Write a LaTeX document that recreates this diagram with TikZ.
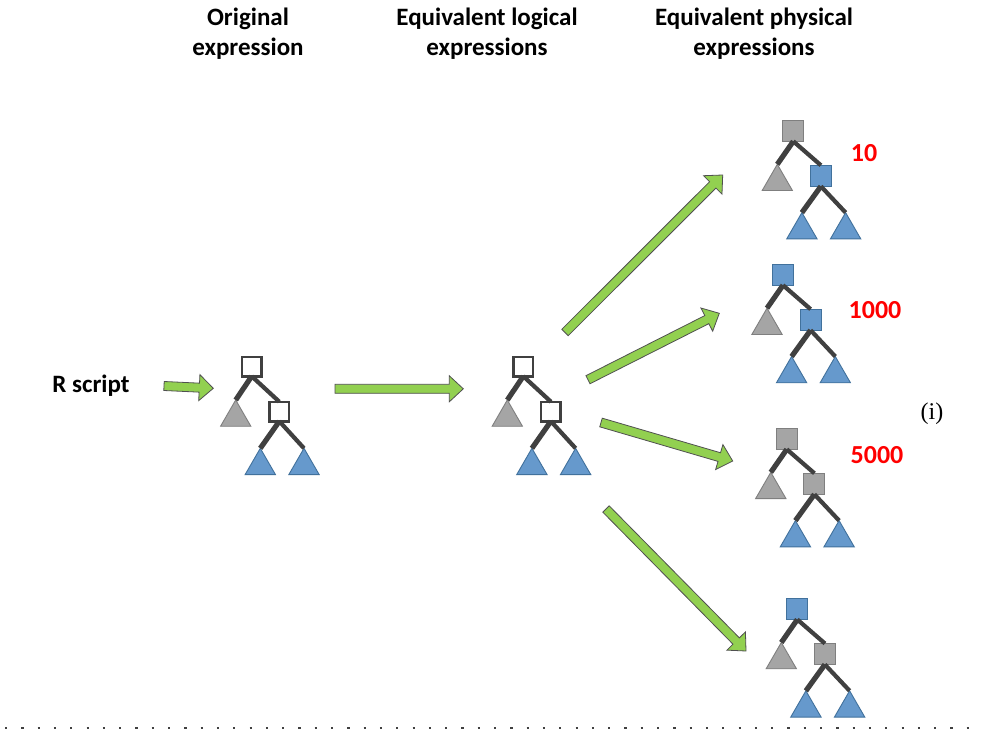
\documentclass[tikz,border=0pt]{standalone}
\usepackage{fontspec}
\setmainfont{Carlito}
\newfontfamily\serifface{Liberation Serif}
\usetikzlibrary{calc,shapes.geometric}
\definecolor{arrowgreen}{HTML}{92D050}
\definecolor{arrowline}{HTML}{505050}
\definecolor{edgegray}{HTML}{404040}
\definecolor{nodegray}{HTML}{A5A5A5}
\definecolor{nodegrayline}{HTML}{7F7F7F}
\definecolor{nodeblue}{HTML}{6699CC}
\definecolor{nodeblueline}{HTML}{41719C}
\definecolor{costred}{HTML}{FF0000}
\tikzset{
  sqbase/.style={rectangle, inner sep=0pt, outer sep=0pt},
  sqwhite/.style={sqbase, minimum size=19.5pt, fill=white, draw=edgegray, line width=2.5pt},
  sqgray/.style={sqbase, minimum size=21pt, fill=nodegray, draw=nodegrayline, line width=0.9pt},
  sqblue/.style={sqbase, minimum size=21pt, fill=nodeblue, draw=nodeblueline, line width=0.9pt},
  tri/.style={regular polygon, regular polygon sides=3, minimum size=35pt, inner sep=0pt, outer sep=0pt, line width=0.9pt},
  trigray/.style={tri, fill=nodegray, draw=nodegrayline},
  triblue/.style={tri, fill=nodeblue, draw=nodeblueline},
  edge/.style={draw=edgegray, line width=4.2pt},
  edgeleft/.style={draw=edgegray, line width=5.2pt},
  fatarrowstyle/.style={fill=arrowgreen, draw=arrowline, line width=0.8pt, line join=miter},
  heading/.style={font=\fontsize{25}{30}\selectfont\bfseries, align=center, inner sep=0pt},
  plainlabel/.style={font=\fontsize{25}{30}\selectfont\bfseries, inner sep=0pt},
  costlabel/.style={font=\fontsize{26}{30}\selectfont\bfseries, text=costred, inner sep=0pt},
}
\newcommand{\fatarrow}[2]{%
  \coordinate (#1-#2-n) at ($(#2)!14pt!(#1)$);
  \draw[fatarrowstyle] ($(#1)!4.5pt!90:(#2)$) -- ($(#1-#2-n)!4.5pt!90:(#2)$) -- ($(#1-#2-n)!13pt!90:(#2)$) -- (#2) -- ($(#1-#2-n)!13pt!-90:(#2)$) -- ($(#1-#2-n)!4.5pt!-90:(#2)$) -- ($(#1)!4.5pt!-90:(#2)$) -- cycle;
}
\newcommand{\exprtree}[5]{%
  \node[#4] (#1r) at (#2,#3) {};
  \node[#5] (#1c) at ($(#1r)+(27.6,45)$) {};
  \node[trigray, anchor=corner 1] (#1g) at ($(#1r)+(-16,33.5)$) {};
  \node[triblue, anchor=corner 1] (#1bl) at ($(#1c)+(-19,36.8)$) {};
  \node[triblue, anchor=corner 1] (#1br) at ($(#1c)+(24.7,36.8)$) {};
  \draw[edgeleft] (#1r.south) -- (#1g.corner 1);
  \draw[edge] (#1r.south) -- (#1c.north);
  \draw[edgeleft] (#1c.south) -- (#1bl.corner 1);
  \draw[edge] (#1c.south) -- (#1br.corner 1);
}
\begin{document}
\begin{tikzpicture}[x=1pt,y=-1pt]
\useasboundingbox[fill=white] (0,0) rectangle (985,730);

% headings
\node[heading] (h1) at (248,34) {Original\\expression};
\node[heading] (h2) at (487,34) {Equivalent logical\\expressions};
\node[heading] (h3) at (754,34) {Equivalent physical\\expressions};

% R script
\node[plainlabel] (rs) at (91,386) {R script};

% trees
\exprtree{ta}{251.7}{366.5}{sqwhite}{sqwhite}
\exprtree{tb}{523.3}{366.5}{sqwhite}{sqwhite}
\exprtree{tc}{793.3}{130.8}{sqgray}{sqblue}
\exprtree{td}{783}{274.7}{sqblue}{sqblue}
\exprtree{te}{786.8}{438.8}{sqgray}{sqgray}
\exprtree{tf}{797.3}{609}{sqblue}{sqgray}

% cost labels
\node[costlabel] (c1) at (864,153) {10};
\node[costlabel] (c2) at (875,310) {1000};
\node[costlabel] (c3) at (877,455) {5000};
\node[font=\serifface\fontsize{24}{28}\selectfont, inner sep=0pt] (lab) at (932,414) {(i)};

% arrow end points
\coordinate (a0s) at (164,386);
\coordinate (a0e) at (213.3,388.3);
\coordinate (ahs) at (335,388.8);
\coordinate (ahe) at (463.3,388.8);
\coordinate (a1s) at (565,332.5);
\coordinate (a1e) at (722.7,175);
\coordinate (a2s) at (588,379.7);
\coordinate (a2e) at (719.3,313.3);
\coordinate (a3s) at (601,422.5);
\coordinate (a3e) at (732.7,461);
\coordinate (a4s) at (606,509);
\coordinate (a4e) at (746,651);
\fatarrow{a0s}{a0e}
\fatarrow{ahs}{ahe}
\fatarrow{a1s}{a1e}
\fatarrow{a2s}{a2e}
\fatarrow{a3s}{a3e}
\fatarrow{a4s}{a4e}

% dotted separator
\coordinate (dl) at (5,728);
\coordinate (dr) at (982,728);
\draw[edgegray, line width=2.2pt, dash pattern=on 2.2pt off 14.1pt] (dl) -- (dr);
\end{tikzpicture}
\end{document}
